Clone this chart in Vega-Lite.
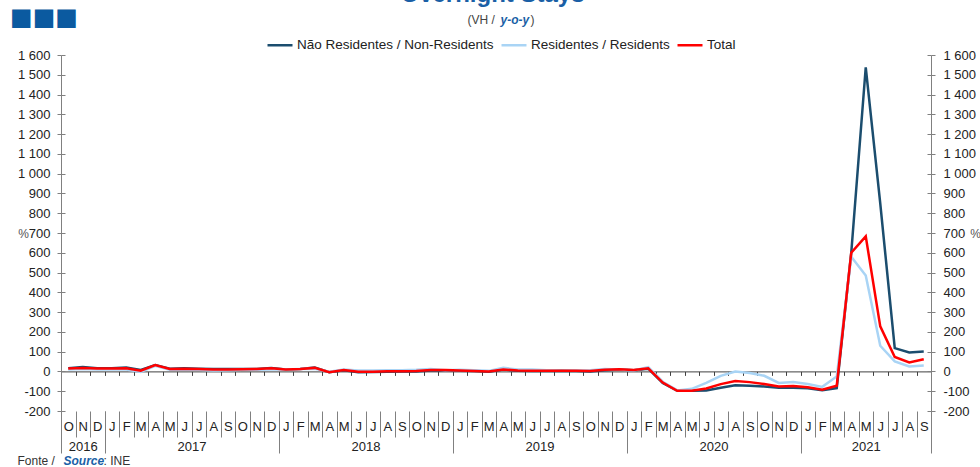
{
"$schema":"https://vega.github.io/schema/vega-lite/v6.json",
"width":870,"height":356,
"autosize":{"type":"none"},
"padding":{"left":61,"top":55,"right":49,"bottom":56},
"config":{
 "font":"Liberation Sans",
 "view":{"stroke":null},
 "axis":{"grid":false,"labelFont":"Liberation Sans","labelFontSize":13,"labelColor":"#222","domainColor":"#808080","tickColor":"#808080","titleFont":"Liberation Sans","titleFontWeight":"normal","titleColor":"#333","titleFontSize":12,"titleAngle":0},
 "legend":{"labelFont":"Liberation Sans","labelFontSize":13.5,"labelColor":"#222","labelLimit":0}
},
"data":{"values":[
{"n":0,"month":"2016-10","Não Residentes / Non-Residents":16,"Residentes / Residents":10,"Total":15},
{"n":1,"month":"2016-11","Não Residentes / Non-Residents":22,"Residentes / Residents":12,"Total":18},
{"n":2,"month":"2016-12","Não Residentes / Non-Residents":16,"Residentes / Residents":10,"Total":15},
{"n":3,"month":"2017-01","Não Residentes / Non-Residents":16,"Residentes / Residents":10,"Total":15},
{"n":4,"month":"2017-02","Não Residentes / Non-Residents":20,"Residentes / Residents":10,"Total":16},
{"n":5,"month":"2017-03","Não Residentes / Non-Residents":8,"Residentes / Residents":-2,"Total":4},
{"n":6,"month":"2017-04","Não Residentes / Non-Residents":32,"Residentes / Residents":28,"Total":32},
{"n":7,"month":"2017-05","Não Residentes / Non-Residents":14,"Residentes / Residents":8,"Total":12},
{"n":8,"month":"2017-06","Não Residentes / Non-Residents":16,"Residentes / Residents":10,"Total":14},
{"n":9,"month":"2017-07","Não Residentes / Non-Residents":14,"Residentes / Residents":8,"Total":12},
{"n":10,"month":"2017-08","Não Residentes / Non-Residents":12,"Residentes / Residents":5,"Total":10},
{"n":11,"month":"2017-09","Não Residentes / Non-Residents":12,"Residentes / Residents":6,"Total":10},
{"n":12,"month":"2017-10","Não Residentes / Non-Residents":12,"Residentes / Residents":8,"Total":11},
{"n":13,"month":"2017-11","Não Residentes / Non-Residents":12,"Residentes / Residents":8,"Total":12},
{"n":14,"month":"2017-12","Não Residentes / Non-Residents":18,"Residentes / Residents":10,"Total":16},
{"n":15,"month":"2018-01","Não Residentes / Non-Residents":10,"Residentes / Residents":10,"Total":10},
{"n":16,"month":"2018-02","Não Residentes / Non-Residents":12,"Residentes / Residents":12,"Total":12},
{"n":17,"month":"2018-03","Não Residentes / Non-Residents":20,"Residentes / Residents":14,"Total":18},
{"n":18,"month":"2018-04","Não Residentes / Non-Residents":-4,"Residentes / Residents":-2,"Total":-4},
{"n":19,"month":"2018-05","Não Residentes / Non-Residents":6,"Residentes / Residents":10,"Total":7},
{"n":20,"month":"2018-06","Não Residentes / Non-Residents":-4,"Residentes / Residents":5,"Total":-2},
{"n":21,"month":"2018-07","Não Residentes / Non-Residents":-3,"Residentes / Residents":5,"Total":-1},
{"n":22,"month":"2018-08","Não Residentes / Non-Residents":-1,"Residentes / Residents":6,"Total":1},
{"n":23,"month":"2018-09","Não Residentes / Non-Residents":0,"Residentes / Residents":6,"Total":1},
{"n":24,"month":"2018-10","Não Residentes / Non-Residents":0,"Residentes / Residents":8,"Total":2},
{"n":25,"month":"2018-11","Não Residentes / Non-Residents":5,"Residentes / Residents":12,"Total":7},
{"n":26,"month":"2018-12","Não Residentes / Non-Residents":6,"Residentes / Residents":6,"Total":7},
{"n":27,"month":"2019-01","Não Residentes / Non-Residents":4,"Residentes / Residents":8,"Total":5},
{"n":28,"month":"2019-02","Não Residentes / Non-Residents":2,"Residentes / Residents":6,"Total":2},
{"n":29,"month":"2019-03","Não Residentes / Non-Residents":-2,"Residentes / Residents":3,"Total":0},
{"n":30,"month":"2019-04","Não Residentes / Non-Residents":10,"Residentes / Residents":18,"Total":10},
{"n":31,"month":"2019-05","Não Residentes / Non-Residents":3,"Residentes / Residents":10,"Total":5},
{"n":32,"month":"2019-06","Não Residentes / Non-Residents":2,"Residentes / Residents":10,"Total":4},
{"n":33,"month":"2019-07","Não Residentes / Non-Residents":2,"Residentes / Residents":6,"Total":3},
{"n":34,"month":"2019-08","Não Residentes / Non-Residents":3,"Residentes / Residents":4,"Total":3},
{"n":35,"month":"2019-09","Não Residentes / Non-Residents":2,"Residentes / Residents":5,"Total":3},
{"n":36,"month":"2019-10","Não Residentes / Non-Residents":0,"Residentes / Residents":6,"Total":2},
{"n":37,"month":"2019-11","Não Residentes / Non-Residents":6,"Residentes / Residents":12,"Total":8},
{"n":38,"month":"2019-12","Não Residentes / Non-Residents":10,"Residentes / Residents":10,"Total":11},
{"n":39,"month":"2020-01","Não Residentes / Non-Residents":6,"Residentes / Residents":5,"Total":7},
{"n":40,"month":"2020-02","Não Residentes / Non-Residents":14,"Residentes / Residents":22,"Total":16},
{"n":41,"month":"2020-03","Não Residentes / Non-Residents":-58,"Residentes / Residents":-52,"Total":-56},
{"n":42,"month":"2020-04","Não Residentes / Non-Residents":-98,"Residentes / Residents":-96,"Total":-98},
{"n":43,"month":"2020-05","Não Residentes / Non-Residents":-98,"Residentes / Residents":-88,"Total":-97},
{"n":44,"month":"2020-06","Não Residentes / Non-Residents":-96,"Residentes / Residents":-58,"Total":-86},
{"n":45,"month":"2020-07","Não Residentes / Non-Residents":-82,"Residentes / Residents":-22,"Total":-64},
{"n":46,"month":"2020-08","Não Residentes / Non-Residents":-70,"Residentes / Residents":0,"Total":-48},
{"n":47,"month":"2020-09","Não Residentes / Non-Residents":-72,"Residentes / Residents":-8,"Total":-54},
{"n":48,"month":"2020-10","Não Residentes / Non-Residents":-76,"Residentes / Residents":-22,"Total":-64},
{"n":49,"month":"2020-11","Não Residentes / Non-Residents":-82,"Residentes / Residents":-58,"Total":-76},
{"n":50,"month":"2020-12","Não Residentes / Non-Residents":-82,"Residentes / Residents":-54,"Total":-73},
{"n":51,"month":"2021-01","Não Residentes / Non-Residents":-85,"Residentes / Residents":-63,"Total":-80},
{"n":52,"month":"2021-02","Não Residentes / Non-Residents":-95,"Residentes / Residents":-78,"Total":-92},
{"n":53,"month":"2021-03","Não Residentes / Non-Residents":-84,"Residentes / Residents":-25,"Total":-72},
{"n":54,"month":"2021-04","Não Residentes / Non-Residents":600,"Residentes / Residents":580,"Total":600},
{"n":55,"month":"2021-05","Não Residentes / Non-Residents":1538,"Residentes / Residents":485,"Total":683},
{"n":56,"month":"2021-06","Não Residentes / Non-Residents":850,"Residentes / Residents":130,"Total":228},
{"n":57,"month":"2021-07","Não Residentes / Non-Residents":118,"Residentes / Residents":51,"Total":73},
{"n":58,"month":"2021-08","Não Residentes / Non-Residents":96,"Residentes / Residents":25,"Total":46},
{"n":59,"month":"2021-09","Não Residentes / Non-Residents":101,"Residentes / Residents":30,"Total":62}
]},
"transform":[{"fold":["Não Residentes / Non-Residents","Residentes / Residents","Total"],"as":["series","value"]}],
"resolve":{"axis":{"x":"independent","y":"independent"}},
"layer":[
 {
  "mark":{"type":"line","strokeWidth":2.5},
  "encoding":{
   "x":{"field":"n","type":"quantitative","scale":{"domain":[-0.5,59.5],"nice":false,"zero":false},
    "axis":{"orient":"bottom","offset":-39.6,"values":[-0.5,0.5,1.5,2.5,3.5,4.5,5.5,6.5,7.5,8.5,9.5,10.5,11.5,12.5,13.5,14.5,15.5,16.5,17.5,18.5,19.5,20.5,21.5,22.5,23.5,24.5,25.5,26.5,27.5,28.5,29.5,30.5,31.5,32.5,33.5,34.5,35.5,36.5,37.5,38.5,39.5,40.5,41.5,42.5,43.5,44.5,45.5,46.5,47.5,48.5,49.5,50.5,51.5,52.5,53.5,54.5,55.5,56.5,57.5,58.5,59.5],
     "tickSize":4,"labels":false,"domainColor":"#404040","tickColor":"#404040",
     "title":"Overnight Stays","titleX":431,"titleY":-370,"titleAlign":"center","titleBaseline":"alphabetic","titleFontSize":24,"titleFontWeight":"bold","titleColor":"#1a5fa6"}},
   "y":{"field":"value","type":"quantitative","scale":{"domain":[-200,1600],"nice":false,"zero":false},
    "axis":{"orient":"left","values":[-200,-100,0,100,200,300,400,500,600,700,800,900,1000,1100,1200,1300,1400,1500,1600],"tickSize":4,"labelPadding":7,
     "labelExpr":"replace(replace(format(datum.value, ','), ',', ' '), '−', '-')",
     "title":"%","titleX":-38,"titleY":178,"titleAlign":"center","titleBaseline":"middle","titleColor":"#555"}},
   "color":{"field":"series","type":"nominal",
    "scale":{"domain":["Não Residentes / Non-Residents","Residentes / Residents","Total"],"range":["#1b4d6e","#a9d4f5","#ff0000"]},
    "legend":{"orient":"none","legendX":205,"legendY":-24,"direction":"horizontal","title":null,"symbolType":"stroke","symbolStrokeWidth":2.5,"symbolSize":625,"labelOffset":3,"columnPadding":2,"labelLimit":0}}
  }
 },
 {
  "mark":{"type":"line","opacity":0},
  "encoding":{
   "x":{"field":"n","type":"quantitative","scale":{"domain":[-0.5,59.5],"nice":false,"zero":false},
    "axis":{"orient":"bottom","values":[-0.5,0.5,1.5,2.5,3.5,4.5,5.5,6.5,7.5,8.5,9.5,10.5,11.5,12.5,13.5,14.5,15.5,16.5,17.5,18.5,19.5,20.5,21.5,22.5,23.5,24.5,25.5,26.5,27.5,28.5,29.5,30.5,31.5,32.5,33.5,34.5,35.5,36.5,37.5,38.5,39.5,40.5,41.5,42.5,43.5,44.5,45.5,46.5,47.5,48.5,49.5,50.5,51.5,52.5,53.5,54.5,55.5,56.5,57.5,58.5,59.5],
     "tickSize":26,"labels":false,"domain":false,
     "title":": INE","titleX":42,"titleY":53,"titleAlign":"left","titleBaseline":"alphabetic","titleColor":"#333"}},
   "y":{"field":"value","type":"quantitative","scale":{"domain":[-200,1600],"nice":false,"zero":false},
    "axis":{"orient":"left","values":[-200,-100,0,100,200,300,400,500,600,700,800,900,1000,1100,1200,1300,1400,1500,1600],"tickSize":-4,"labels":false,"domain":false,"title":null}}
  }
 },
 {
  "mark":{"type":"line","opacity":0},
  "encoding":{
   "x":{"field":"n","type":"quantitative","scale":{"domain":[-0.5,59.5],"nice":false,"zero":false},
    "axis":{"orient":"bottom","values":[-0.5,2.5,14.5,26.5,38.5,50.5,59.5],
     "tickSize":42,"labels":false,"domain":false,
     "title":"Source","titleX":2,"titleY":53,"titleAlign":"left","titleBaseline":"alphabetic","titleColor":"#1a5fa6","titleFontWeight":"bold","titleFontStyle":"italic"}},
   "y":{"field":"value","type":"quantitative","scale":{"domain":[-200,1600],"nice":false,"zero":false},
    "axis":{"orient":"right","values":[-200,-100,0,100,200,300,400,500,600,700,800,900,1000,1100,1200,1300,1400,1500,1600],"tickSize":4,"labelPadding":8,
     "labelExpr":"replace(replace(format(datum.value, ','), ',', ' '), '−', '-')",
     "title":"%","titleX":44,"titleY":178,"titleAlign":"center","titleBaseline":"middle","titleColor":"#555"}}
  }
 },
 {
  "mark":{"type":"line","opacity":0},
  "encoding":{
   "x":{"field":"n","type":"quantitative","scale":{"domain":[-0.5,59.5],"nice":false,"zero":false},
    "axis":{"orient":"bottom","values":[0,1,2,3,4,5,6,7,8,9,10,11,12,13,14,15,16,17,18,19,20,21,22,23,24,25,26,27,28,29,30,31,32,33,34,35,36,37,38,39,40,41,42,43,44,45,46,47,48,49,50,51,52,53,54,55,56,57,58,59],
     "ticks":false,"tickSize":0,"domain":false,"labelPadding":9,"labelFontSize":13,"labelColor":"#222",
     "labelExpr":"substring('ONDJFMAMJJAS', datum.value % 12, datum.value % 12 + 1)",
     "title":"Fonte /","titleX":-44,"titleY":53,"titleAlign":"left","titleBaseline":"alphabetic","titleColor":"#333"}},
   "y":{"field":"value","type":"quantitative","scale":{"domain":[-200,1600],"nice":false,"zero":false},
    "axis":{"orient":"right","values":[-200,-100,0,100,200,300,400,500,600,700,800,900,1000,1100,1200,1300,1400,1500,1600],"tickSize":-4,"labels":false,"domain":false,"title":null}}
  }
 },
 {
  "mark":{"type":"line","opacity":0},
  "encoding":{
   "x":{"field":"n","type":"quantitative","scale":{"domain":[-0.5,59.5],"nice":false,"zero":false},
    "axis":{"orient":"bottom","values":[1,8.5,20.5,32.5,44.5,55],
     "ticks":false,"tickSize":0,"domain":false,"labelPadding":29,"labelFontSize":13,"labelColor":"#222",
     "labelExpr":"datum.value < 2 ? '2016' : '' + (2017 + floor((datum.value - 2.5) / 12))",
     "title":null}},
   "y":{"field":"value","type":"quantitative","scale":{"domain":[-200,1600],"nice":false,"zero":false},"axis":null}
  }
 },
 {
  "mark":{"type":"line","opacity":0},
  "encoding":{
   "x":{"field":"n","type":"quantitative","scale":{"domain":[-0.5,59.5],"nice":false,"zero":false},
    "axis":{"orient":"top","ticks":false,"labels":false,"domain":false,
     "title":"(VH /","titleX":406,"titleY":-32,"titleAlign":"left","titleBaseline":"alphabetic","titleFontSize":12,"titleColor":"#444"}},
   "y":{"field":"value","type":"quantitative","scale":{"domain":[-200,1600],"nice":false,"zero":false},"axis":null}
  }
 },
 {
  "mark":{"type":"line","opacity":0},
  "encoding":{
   "x":{"field":"n","type":"quantitative","scale":{"domain":[-0.5,59.5],"nice":false,"zero":false},
    "axis":{"orient":"top","ticks":false,"labels":false,"domain":false,
     "title":"y-o-y","titleX":439,"titleY":-32,"titleAlign":"left","titleBaseline":"alphabetic","titleFontSize":12,"titleColor":"#1a5fa6","titleFontWeight":"bold","titleFontStyle":"italic"}},
   "y":{"field":"value","type":"quantitative","scale":{"domain":[-200,1600],"nice":false,"zero":false},"axis":null}
  }
 },
 {
  "mark":{"type":"line","opacity":0},
  "encoding":{
   "x":{"field":"n","type":"quantitative","scale":{"domain":[-0.5,59.5],"nice":false,"zero":false},
    "axis":{"orient":"top","ticks":false,"labels":false,"domain":false,
     "title":")","titleX":469,"titleY":-32,"titleAlign":"left","titleBaseline":"alphabetic","titleFontSize":12,"titleColor":"#444"}},
   "y":{"field":"value","type":"quantitative","scale":{"domain":[-200,1600],"nice":false,"zero":false},"axis":null}
  }
 },
 {
  "mark":{"type":"line","opacity":0},
  "encoding":{
   "x":{"field":"n","type":"quantitative","scale":{"domain":[-0.5,59.5],"nice":false,"zero":false},
    "axis":{"orient":"top","ticks":false,"labels":false,"domain":false,
     "title":"■■■","titleX":-17.5,"titleY":-38,"titleAlign":"center","titleBaseline":"middle","titleFont":"DejaVu Sans","titleFontSize":24,"titleColor":"#0b5aa0"}},
   "y":{"field":"value","type":"quantitative","scale":{"domain":[-200,1600],"nice":false,"zero":false},"axis":null}
  }
 }
]
}
